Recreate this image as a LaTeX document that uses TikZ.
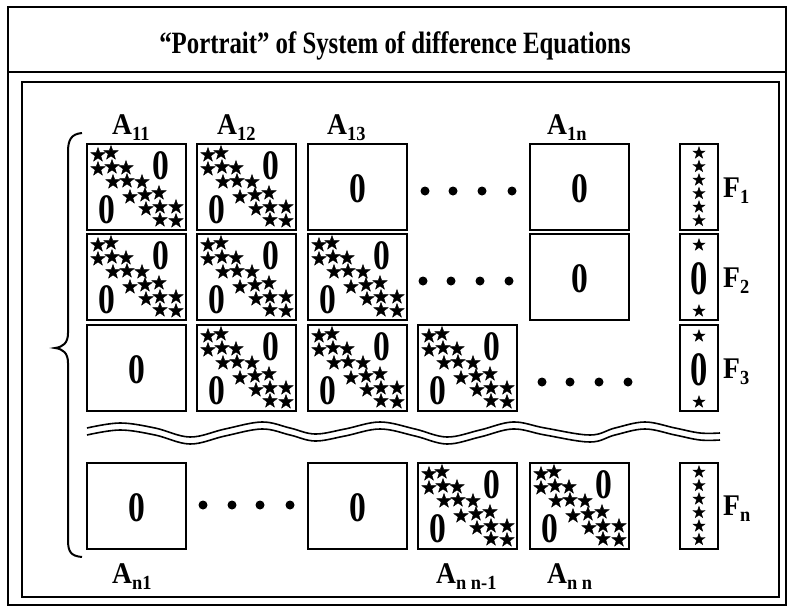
\documentclass[tikz,border=0pt]{standalone}
\usepackage{fontspec}
\setmainfont{Liberation Serif}
\newfontfamily\cf[FakeStretch=0.8]{Liberation Serif}
\newfontfamily\lf[FakeStretch=0.92]{Liberation Serif}
\usetikzlibrary{shapes.geometric}
\begin{document}
\begin{tikzpicture}[x=1pt,y=-1pt,
  frame/.style={draw, line width=1.8pt},
  box/.style={draw, line width=2.2pt},
  st/.style={star, star points=5, star point ratio=2.5, fill=black, draw=black, line width=0.4pt, minimum size=15pt, inner sep=0pt},
  fst/.style={st, minimum size=12.5pt},
  zero/.style={font=\cf\bfseries\fontsize{42}{42}\selectfont, inner sep=0pt},
  fzero/.style={font=\cf\bfseries\fontsize{48}{48}\selectfont, inner sep=0pt, xscale=0.9},
  dot/.style={circle, fill=black, inner sep=0pt, minimum size=9pt},
  lbl/.style={font=\lf\bfseries\fontsize{30}{30}\selectfont, inner sep=0pt, anchor=base west},
  wave/.style={line width=1.6pt},
  brace/.style={line width=2pt},
  ablock/.pic={
    \draw[box] (0,0) rectangle (99,86);
    \foreach \x/\y in {11/11,24/9,11/25,25/23,39/24,26/38,40/37,55/38,43/53,58/51,72/49,59/65,73/63,89/63,73/76,89/77}
      \node[st] at (\x,\y) {};
    \node[zero] at (74,22) {0};
    \node[zero] at (20,66) {0};
  },
  zblock/.pic={
    \draw[box] (0,0) rectangle (99,86);
    \node[zero] at (49.5,45) {0};
  },
  fstars/.pic={
    \draw[box] (0,0) rectangle (38,86);
    \foreach \y in {9,22.5,36,49.5,63,76.5} \node[fst] at (19,\y) {};
  },
  fzeros/.pic={
    \draw[box] (0,0) rectangle (38,86);
    \node[fst] at (19,11) {};
    \node[fzero] at (19,45) {0};
    \node[fst] at (19,77) {};
  }
]
\useasboundingbox (0,0) rectangle (788,608);
% frames
\draw[frame] (8,7) rectangle (786,605);
\draw[frame] (8,72) -- (786,72);
\draw[frame] (22,82) rectangle (779,597);
\node[font=\cf\bfseries\fontsize{31}{31}\selectfont, inner sep=0pt, anchor=base] (title) at (395,53) {“Portrait” of System of difference Equations};

% row 1
\pic at (87,144) {ablock};
\pic at (197,144) {ablock};
\pic at (308,144) {zblock};
\foreach \x in {425,453,482,512} \node[dot] at (\x,191) {};
\pic at (530,144) {zblock};
\pic at (680,144) {fstars};
% row 2
\pic at (87,234) {ablock};
\pic at (197,234) {ablock};
\pic at (308,234) {ablock};
\foreach \x in {423,451,480,509} \node[dot] at (\x,281) {};
\pic at (530,234) {zblock};
\pic at (680,234) {fzeros};
% row 3
\pic at (87,325) {zblock};
\pic at (197,325) {ablock};
\pic at (308,325) {ablock};
\pic at (418,325) {ablock};
\foreach \x in {542,570,599,628} \node[dot] at (\x,382) {};
\pic at (680,325) {fzeros};
% row n
\pic at (87,463) {zblock};
\foreach \x in {203,232,260,290} \node[dot] at (\x,505) {};
\pic at (308,463) {zblock};
\pic at (418,463) {ablock};
\pic at (530,463) {ablock};
\pic at (680,463) {fstars};

% wavy lines
\draw[wave] plot[smooth, tension=0.6] coordinates {(87,428) (120,423) (155,428) (190,437) (225,429) (262,422) (290,428) (315,434) (345,429) (380,422) (415,429) (447,437) (480,430) (513,422) (545,428) (590,435) (615,428) (645,422) (675,428) (700,433) (720,433)};
\draw[wave] plot[smooth, tension=0.6] coordinates {(87,435) (120,430) (155,435) (190,444) (225,436) (262,429) (290,435) (315,441) (345,436) (380,429) (415,436) (447,444) (480,437) (513,429) (545,435) (590,442) (615,435) (645,429) (675,435) (700,440) (720,440)};

% brace
\draw[brace] (82,133) .. controls (71,134) and (68,140) .. (68,152) -- (68,333) .. controls (68,343) and (63,347) .. (55,348) .. controls (63,349) and (68,353) .. (68,363) -- (68,540) .. controls (68,552) and (71,556) .. (82,557);

% labels
\newcommand{\sbx}[1]{\raisebox{-6pt}{\fontsize{20}{20}\selectfont #1}}
\node[lbl] (a11) at (112,134) {A\sbx{11}};
\node[lbl] (a12) at (217,134) {A\sbx{12}};
\node[lbl] (a13) at (327,134) {A\sbx{13}};
\node[lbl] (a1n) at (547,134) {A\sbx{1n}};
\node[lbl] (an1) at (112,583) {A\sbx{n1}};
\node[lbl] (ann1) at (436,583) {A\sbx{n n-1}};
\node[lbl] (ann) at (547,583) {A\sbx{n n}};
\node[lbl] (f1) at (723,197) {F\sbx{1}};
\node[lbl] (f2) at (723,287) {F\sbx{2}};
\node[lbl] (f3) at (723,378) {F\sbx{3}};
\node[lbl] (fn) at (723,515) {F\sbx{n}};
\end{tikzpicture}
\end{document}
